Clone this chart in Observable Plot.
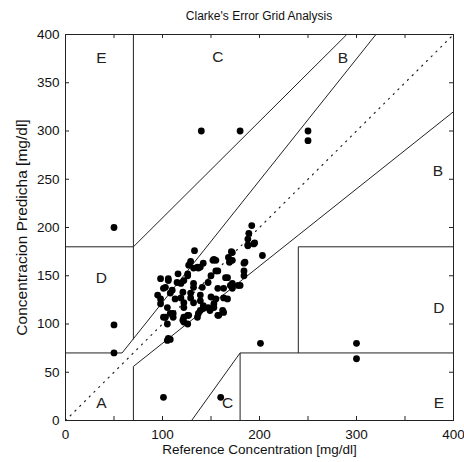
<!DOCTYPE html>
<html>
<head>
<meta charset="utf-8">
<script src="https://cdn.jsdelivr.net/npm/d3@7"></script>
<script src="https://cdn.jsdelivr.net/npm/@observablehq/plot@0.6"></script>
<style>
  body { margin: 0; background: #fff; font-family: "Liberation Sans", Arial, sans-serif; }
  #title { box-sizing: border-box; width: 464px; height: 26px; padding-top: 9px; padding-left: 54px;
           text-align: center; font-size: 12px; line-height: 14px; color: #111; }
</style>
</head>
<body>
<div id="title">Clarke's Error Grid Analysis</div>
<div id="chart"></div>
<script>
// Measured points: reference vs predicted (mg/dl)
const refX = [50,50,50,101,160,140,180,250,250,201,300,300,
  133,153,127,137,116,98,106,126,157,167,103,95,108,119,132,129,139,119,98,105,122,142,153,163,108,126,137,149,163,126,106,
  105,108,103,111,121,127,139,157,
  203,180,184,184,184,188,194,172,172,172,
  192,189,188,188,195,171,168,169,152,155,185,
  129,142,136,
  126,132,139,106,115,122,132,141,101,110,121,129,98,113,122,132,139,142,101,111,122,136,
  155,150,165,147,157,163,170,172,178,150,167,155,147,153,162,158,
  122,105];
const predY = [200,99,70,24,24,300,300,300,290,80,80,64,
  176,167,161,158,152,147,147,150,155,148,138,130,132,142,138,127,130,127,121,117,117,119,121,127,111,109,111,114,112,100,85,
  83,84,107,111,104,109,114,109,
  171,140,163,155,150,181,183,174,166,142,
  202,194,188,182,184,175,169,164,166,166,164,
  165,163,159,
  152,158,159,145,143,145,142,138,137,135,133,132,126,126,122,122,124,116,107,107,107,107,
  155,150,148,143,137,137,140,137,140,128,126,126,117,117,114,109,
  102,100];

// Clarke zone boundaries (segment end points)
const segX1 = [0, 175/3, 70, 0, 70, 70, 70, 180, 180, 240, 240, 130];
const segY1 = [70, 70, 84, 180, 180, 0, 56, 0, 70, 70, 180, 0];
const segX2 = [175/3, 320, 70, 70, 290, 70, 400, 180, 400, 240, 400, 180];
const segY2 = [70, 400, 400, 180, 400, 56, 320, 70, 70, 180, 180, 70];

// Zone labels
const zoneText = ["E", "C", "B", "B", "D", "D", "A", "C", "E"];
const zoneX = [37, 157, 286, 384, 37, 385, 37, 167, 385];
const zoneY = [376, 377, 376, 258, 148, 117, 18, 18, 18];

const ticks = [0, 50, 100, 150, 200, 250, 300, 350, 400];
const diag = [0, 400];
const xLabel = "Reference Concentration [mg/dl]";
const yLabel = "Concentracion Predicha [mg/dl]";

const points = refX.map((x, i) => ({x, y: predY[i]}));
const segs = segX1.map((x1, i) => ({x1, y1: segY1[i], x2: segX2[i], y2: segY2[i]}));
const labels = zoneText.map((t, i) => ({t, x: zoneX[i], y: zoneY[i]}));

const W = 464, H = 436, mL = 65, mR = 11, mT = 8, mB = 42;
const iw = W - mL - mR, ih = H - mT - mB;

const chart = Plot.plot({
  width: W, height: H,
  marginLeft: mL, marginRight: mR, marginTop: mT, marginBottom: mB,
  style: {fontFamily: "Liberation Sans, Arial, sans-serif", fontSize: "13.5px", color: "#111", background: "#fff"},
  x: {domain: [0, 400], ticks: ticks},
  y: {domain: [0, 400], ticks: ticks},
  marks: [
    Plot.line(diag, {x: d => d, y: d => d, stroke: "#222", strokeWidth: 1.2, strokeDasharray: "1.2,5.5"}),
    Plot.link(segs, {x1: "x1", y1: "y1", x2: "x2", y2: "y2", stroke: "#222", strokeWidth: 1}),
    Plot.text(labels, {x: "x", y: "y", text: "t", fontSize: 15.5, fill: "#222"}),
    Plot.dot(points, {x: "x", y: "y", r: 3.4, fill: "black", stroke: "none"}),
    // inward ticks on all four sides
    Plot.ruleX(ticks, {x: d => d, insetTop: ih - 4, stroke: "#222"}),
    Plot.ruleX(ticks, {x: d => d, insetBottom: ih - 4, stroke: "#222"}),
    Plot.ruleY(ticks, {y: d => d, insetRight: iw - 4, stroke: "#222"}),
    Plot.ruleY(ticks, {y: d => d, insetLeft: iw - 4, stroke: "#222"}),
    Plot.axisX({anchor: "bottom", tickSize: 0, tickPadding: 9, label: null}),
    Plot.axisY({anchor: "left", tickSize: 0, tickPadding: 6, label: null}),
    Plot.text([xLabel], {text: d => d, frameAnchor: "bottom", dy: 33, fontSize: 13.5, fill: "#111"}),
    Plot.text([yLabel], {text: d => d, frameAnchor: "left", textAnchor: "middle", dx: -43, rotate: -90, fontSize: 15.5, fill: "#111"}),
    Plot.frame({stroke: "#222", strokeWidth: 1})
  ]
});
document.getElementById("chart").appendChild(chart);
</script>
</body>
</html>
